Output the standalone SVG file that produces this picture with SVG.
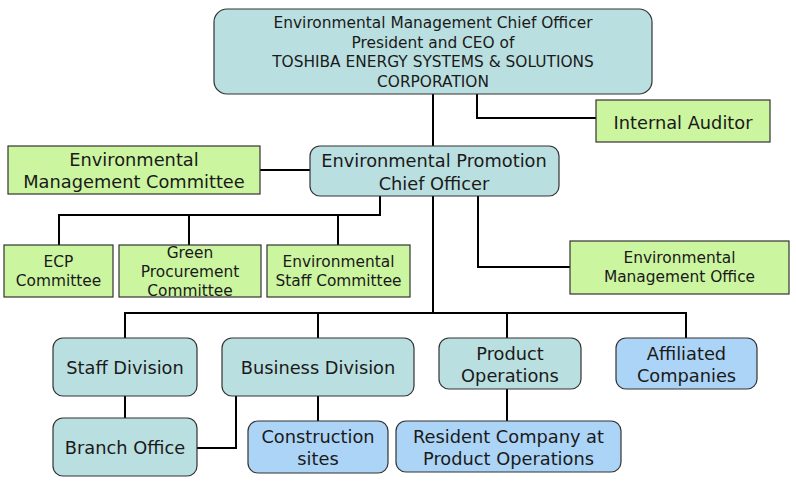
<svg xmlns="http://www.w3.org/2000/svg" width="796" height="485" viewBox="0 0 796 485">
<style>
text{font-family:"DejaVu Sans","Verdana",sans-serif;fill:#1a1a1a;text-anchor:middle}
.t{fill:#badfe0;stroke:#333;stroke-width:1.2}
.g{fill:#ccf5a0;stroke:#333;stroke-width:1.2}
.b{fill:#acd4f6;stroke:#333;stroke-width:1.2}
.c{fill:none;stroke:#000;stroke-width:2}
.s15{font-size:15.4px}.s17{font-size:17.8px}
</style>
<rect width="796" height="485" fill="#fff"/>
<g id="connectors">
<path class="c" d="M433 94V146M477 94V118H596"/>
<path class="c" d="M260 170H310"/>
<path class="c" d="M380 196V215H59V245M189 215V245M338 215V245"/>
<path class="c" d="M478 196V267H570"/>
<path class="c" d="M433 196V313M125 338V313H686V338M318 313V338M507 313V338"/>
<path class="c" d="M125 396V418M236 396V448H197M318 396V421M507 389V421"/>
</g>
<g id="ceo"><rect class="t" x="214" y="9" width="438" height="85" rx="13"/>
<text class="s15" x="433" y="28">Environmental Management Chief Officer</text>
<text class="s15" x="433" y="47.5">President and CEO of</text>
<text class="s15" x="433" y="67">TOSHIBA ENERGY SYSTEMS &amp; SOLUTIONS</text>
<text class="s15" x="433" y="86.5">CORPORATION</text></g>
<g id="auditor"><rect class="g" x="596" y="100" width="174" height="42"/>
<text class="s17" x="683" y="129">Internal Auditor</text></g>
<g id="promo"><rect class="t" x="310" y="146" width="249" height="50" rx="10"/>
<text class="s17" x="434" y="167">Environmental Promotion</text>
<text class="s17" x="434" y="190">Chief Officer</text></g>
<g id="emc"><rect class="g" x="8" y="146" width="252" height="48"/>
<text class="s17" x="134" y="166">Environmental</text>
<text class="s17" x="134" y="188">Management Committee</text></g>
<g id="ecp"><rect class="g" x="4" y="245" width="109" height="52"/>
<text class="s15" x="58.5" y="267">ECP</text>
<text class="s15" x="58.5" y="286">Committee</text></g>
<g id="green"><rect class="g" x="119" y="245" width="142" height="52"/>
<text class="s15" x="190" y="258">Green</text>
<text class="s15" x="190" y="277">Procurement</text>
<text class="s15" x="190" y="296">Committee</text></g>
<g id="esc"><rect class="g" x="267" y="245" width="143" height="52"/>
<text class="s15" x="338.5" y="267">Environmental</text>
<text class="s15" x="338.5" y="286">Staff Committee</text></g>
<g id="emo"><rect class="g" x="570" y="241" width="219" height="53"/>
<text class="s15" x="679.5" y="263">Environmental</text>
<text class="s15" x="679.5" y="282">Management Office</text></g>
<g id="staff"><rect class="t" x="53" y="338" width="144" height="58" rx="10"/>
<text class="s17" x="125" y="374">Staff Division</text></g>
<g id="business"><rect class="t" x="222" y="338" width="192" height="58" rx="10"/>
<text class="s17" x="318" y="374">Business Division</text></g>
<g id="product"><rect class="t" x="439" y="338" width="142" height="51" rx="10"/>
<text class="s17" x="510" y="360">Product</text>
<text class="s17" x="510" y="382">Operations</text></g>
<g id="affiliated"><rect class="b" x="616" y="338" width="141" height="51" rx="10"/>
<text class="s17" x="686.5" y="360">Affiliated</text>
<text class="s17" x="686.5" y="382">Companies</text></g>
<g id="branch"><rect class="t" x="53" y="418" width="144" height="58" rx="10"/>
<text class="s17" x="125" y="454">Branch Office</text></g>
<g id="construction"><rect class="b" x="248" y="421" width="140" height="52" rx="10"/>
<text class="s17" x="318" y="443">Construction</text>
<text class="s17" x="318" y="465">sites</text></g>
<g id="resident"><rect class="b" x="396" y="421" width="225" height="51" rx="10"/>
<text class="s17" x="508.5" y="443">Resident Company at</text>
<text class="s17" x="508.5" y="465">Product Operations</text></g>
</svg>
